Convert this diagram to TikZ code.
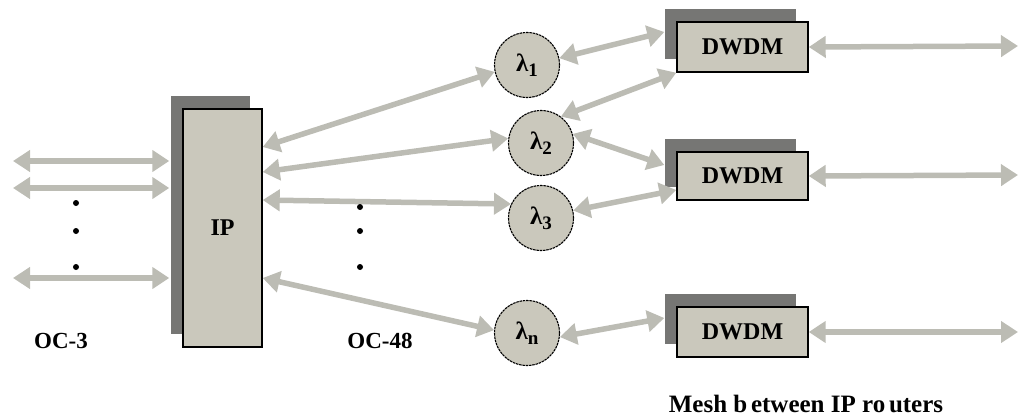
\documentclass[tikz,border=0pt]{standalone}
\usepackage{fontspec}
\setmainfont{Liberation Serif}
\usetikzlibrary{arrows.meta,shadows,calc}
\definecolor{boxfill}{RGB}{202,200,188}
\definecolor{shadowgray}{RGB}{118,118,116}
\definecolor{arrowgray}{RGB}{188,188,180}
\newcommand\lamlab[1]{{\bfseries\fontsize{25}{25}\selectfont λ\raisebox{-5pt}{\fontsize{19}{19}\selectfont #1}}}
\begin{document}
\begin{tikzpicture}[x=1pt,y=-1pt,
  dev/.style={draw=black, line width=1.4pt, fill=boxfill,
    drop shadow={shadow xshift=-12pt, shadow yshift=13pt, fill=shadowgray, opacity=1},
    font=\bfseries\fontsize{24}{26}\selectfont, inner sep=0pt},
  wl/.style={circle, draw=black, line width=1.1pt, dash pattern=on 2.5pt off 0.8pt,
    fill=boxfill, minimum size=65pt, inner sep=0pt},
  link/.style={draw=arrowgray, line width=5.5pt,
    {Triangle[length=17pt,width=21pt]}-{Triangle[length=17pt,width=21pt]}},
  lbl/.style={font=\bfseries\fontsize{23}{25}\selectfont},
  dotn/.style={circle, fill=black, inner sep=0pt, minimum size=6pt}]
\useasboundingbox (0,0) rectangle (1019,417);
% devices
\node[dev, minimum width=79pt, minimum height=238pt] (ip) at (222.5,228) {IP};
\node[dev, minimum width=131pt, minimum height=50pt] (d1) at (742.5,47) {DWDM};
\node[dev, minimum width=131pt, minimum height=48pt] (d2) at (742.5,176) {DWDM};
\node[dev, minimum width=131pt, minimum height=50pt] (d3) at (742.5,332) {DWDM};
% wavelengths
\node[wl] (l1) at (527,65) {\lamlab{1}};
\node[wl] (l2) at (541,143) {\lamlab{2}};
\node[wl] (l3) at (541,218) {\lamlab{3}};
\node[wl] (ln) at (527,333) {\lamlab{n}};
% free ends
\coordinate (c1) at (13,161);
\coordinate (c2) at (13,188);
\coordinate (c3) at (13,278);
\coordinate (r1) at (1018,46);
\coordinate (r2) at (1018,175);
\coordinate (r3) at (1018,332);
% left links
\draw[link] (c1) -- ([xshift=-13pt,yshift=67pt]ip.west);
\draw[link] (c2) -- ([xshift=-13pt,yshift=40pt]ip.west);
\draw[link] (c3) -- ([xshift=-13pt,yshift=-50pt]ip.west);
% IP to wavelengths
\draw[link] ([yshift=81pt]ip.east) -- (l1.192);
\draw[link] ([yshift=56pt]ip.east) -- (l2.172);
\draw[link] ([yshift=28pt]ip.east) -- (l3.155);
\draw[link] ([yshift=-50pt]ip.east) -- (ln.175);
% wavelengths to DWDM
\draw[link] (l1.12) -- ([xshift=-12pt,yshift=15pt]d1.west);
\draw[link] (l2.53) -- (d1.south west);
\draw[link] (l2.16) -- ([xshift=-12pt,yshift=11pt]d2.west);
\draw[link] (l3.13) -- ([yshift=-14pt]d2.west);
\draw[link] (ln.-7) -- ([xshift=-12pt,yshift=14pt]d3.west);
% DWDM outward
\draw[link] (d1.east) -- (r1);
\draw[link] (d2.east) -- (r2);
\draw[link] (d3.east) -- (r3);
% dots
\node[dotn] (p1) at (76,203) {};
\node[dotn] (p2) at (76,231) {};
\node[dotn] (p3) at (76,267) {};
\node[dotn] (q1) at (360,207) {};
\node[dotn] (q2) at (360,231) {};
\node[dotn] (q3) at (360,267) {};
% labels
\node[lbl] (oc3) at (61,341) {OC-3};
\node[lbl] (oc48) at (380,341) {OC-48};
\node[lbl, font=\bfseries\fontsize{25}{27}\selectfont] (mesh) at (806,404) {Mesh b\hspace{0.15em}etween IP ro\hspace{0.15em}uters};
\end{tikzpicture}
\end{document}
